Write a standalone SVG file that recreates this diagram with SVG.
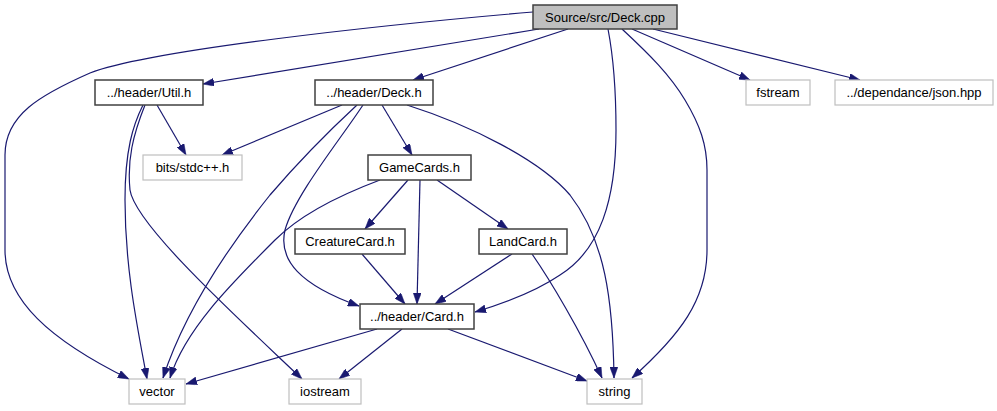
<svg xmlns="http://www.w3.org/2000/svg" width="997" height="411" viewBox="0 0 997 411">
<style>
.n rect{fill:#ffffff;stroke:#404040;stroke-width:1.5}
.g rect{fill:#ffffff;stroke:#bfbfbf;stroke-width:1.2}
.root rect{fill:#bfbfbf;stroke:#404040;stroke-width:1.5}
text{font-family:"Liberation Sans",Arial,sans-serif;font-size:13px;fill:#000000;text-anchor:middle}
#edges path{fill:none;stroke:#191970;stroke-width:1.2;marker-end:url(#arr)}
</style>
<defs>
<marker id="arr" markerUnits="userSpaceOnUse" markerWidth="11" markerHeight="8" refX="11" refY="4" orient="auto">
<path d="M0,0 L11,4 L0,8 z" fill="#191970" stroke="#191970" stroke-width="0.5"/>
</marker>
</defs>
<rect x="0" y="0" width="997" height="411" fill="#ffffff"/>
<g id="edges">
<path d="M533,12 C380,25 150,50 90,73 C40,95 5,115 5,155 L5,250 C5,300 50,340 129,379"/>
<path d="M539,29 L203,84"/>
<path d="M568,29 L413,80"/>
<path d="M608,29 C613,55 616,90 616,130 C616,200 600,250 560,275 C535,292 505,303 475,312"/>
<path d="M622,29 C650,55 670,75 685,100 C700,125 707,145 707,170 L707,250 C707,300 680,335 632,378"/>
<path d="M632,29 L750,80"/>
<path d="M653,29 L860,80"/>
<path d="M157,105 L186,155"/>
<path d="M143,105 C133,125 125,150 125,200 C125,270 138,330 147,379"/>
<path d="M145,105 C133,135 127,160 130,190 C135,225 240,320 302,379"/>
<path d="M342,105 L222,155"/>
<path d="M357,105 C330,130 300,160 270,195 C230,245 185,310 163,378"/>
<path d="M363,105 C340,140 295,195 285,230 C278,260 300,285 359,306"/>
<path d="M382,105 L412,155"/>
<path d="M407,105 C470,125 540,160 570,195 C605,240 613,300 614,378"/>
<path d="M408,180 L365,229"/>
<path d="M437,180 L508,229"/>
<path d="M420,180 L417,304"/>
<path d="M380,180 C340,195 300,215 275,240 C230,285 185,330 170,378"/>
<path d="M362,254 L405,304"/>
<path d="M512,254 L435,304"/>
<path d="M532,254 C550,280 580,330 602,378"/>
<path d="M377,329 L186,384"/>
<path d="M402,329 L339,379"/>
<path d="M448,329 L587,381"/>
</g>
<g id="deck_cpp" class="root"><rect x="533" y="5" width="144" height="24"/><text x="605" y="22">Source/src/Deck.cpp</text></g>
<g id="util_h" class="n"><rect x="95" y="80" width="108" height="25"/><text x="149" y="97">../header/Util.h</text></g>
<g id="deck_h" class="n"><rect x="315" y="80" width="118" height="25"/><text x="374" y="97">../header/Deck.h</text></g>
<g id="fstream" class="g"><rect x="746" y="80" width="64" height="25"/><text x="778" y="97">fstream</text></g>
<g id="json_hpp" class="g"><rect x="835" y="80" width="158" height="25"/><text x="914" y="97">../dependance/json.hpp</text></g>
<g id="stdcpp_h" class="g"><rect x="143" y="155" width="99" height="25"/><text x="192.5" y="172">bits/stdc++.h</text></g>
<g id="gamecards_h" class="n"><rect x="368" y="155" width="103" height="25"/><text x="419.5" y="172">GameCards.h</text></g>
<g id="creaturecard_h" class="n"><rect x="295" y="229" width="110" height="25"/><text x="350" y="246">CreatureCard.h</text></g>
<g id="landcard_h" class="n"><rect x="479" y="229" width="88" height="25"/><text x="523" y="246">LandCard.h</text></g>
<g id="card_h" class="n"><rect x="360" y="304" width="114" height="25"/><text x="417" y="321">../header/Card.h</text></g>
<g id="vector" class="g"><rect x="129" y="379" width="56" height="25"/><text x="157" y="396">vector</text></g>
<g id="iostream" class="g"><rect x="289" y="379" width="72" height="25"/><text x="325" y="396">iostream</text></g>
<g id="string" class="g"><rect x="587" y="379" width="55" height="25"/><text x="614.5" y="396">string</text></g>
</svg>
